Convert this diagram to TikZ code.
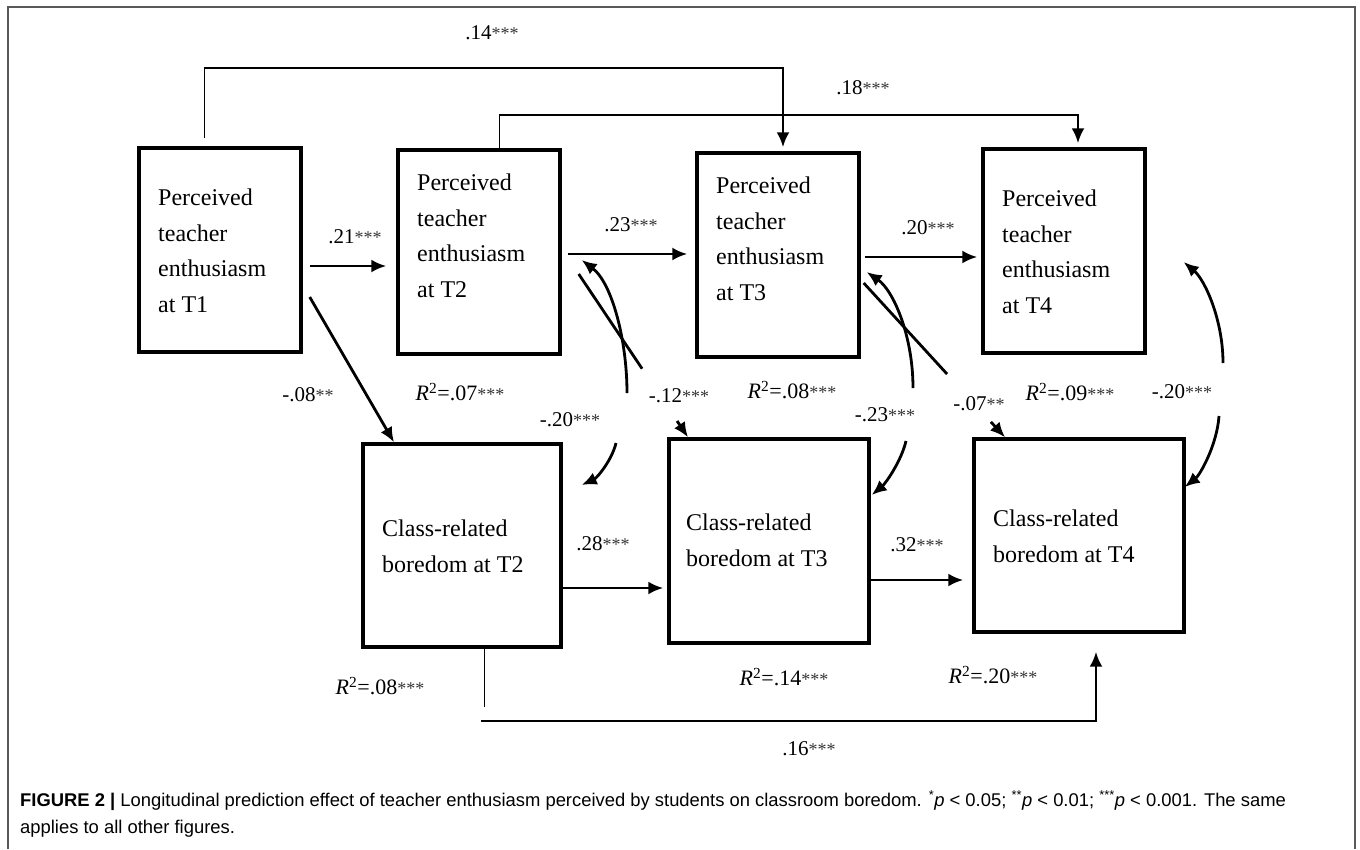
\documentclass[tikz,border=0pt]{standalone}
\usepackage{fontspec}
\setmainfont{Liberation Serif}
\newfontfamily\capfont{Liberation Sans}
\usetikzlibrary{arrows.meta,calc}

\newcommand{\sig}[1]{{\fontsize{18}{18}\selectfont\color{black!80}#1}}
\newcommand{\rsq}[1]{\textit{R}\textsuperscript{2}=#1}

\begin{document}
\begin{tikzpicture}[x=1pt,y=-1pt,>={Latex[length=15pt,width=13pt]}]
	\tikzstyle{box}=[draw,line width=3.4pt,inner sep=0pt]
	\tikzstyle{boxtext}=[anchor=north west,inner sep=0pt,align=left,font=\fontsize{24}{35.5}\selectfont]
	\tikzstyle{coef}=[inner sep=1pt,font=\fontsize{21}{21}\selectfont]
	\tikzstyle{rlab}=[inner sep=1pt,font=\fontsize{22}{22}\selectfont]
	\tikzstyle{link}=[line width=2.8pt]
	\tikzstyle{stem}=[line width=1pt]
	
	\useasboundingbox (0,0) rectangle (1360,849);
	\draw[black!65,line width=2pt] (8,849) -- (8,7) -- (1355,7) -- (1355,849);
	
	\node[box,minimum width=162pt,minimum height=204pt](p1) at (220,250){};
	\node[box,minimum width=162pt,minimum height=204pt](p2) at (479,252){};
	\node[box,minimum width=162pt,minimum height=204pt](p3) at (778,255){};
	\node[box,minimum width=162pt,minimum height=204pt](p4) at (1064,251){};
	
	\node[box,minimum width=198pt,minimum height=203pt](b2) at (462,545.5){};
	\node[box,minimum width=200pt,minimum height=204pt](b3) at (769,541){};
	\node[box,minimum width=210pt,minimum height=193pt](b4) at (1079,535.5){};
	
	\node[boxtext](t1) at (158,189){Perceived\\teacher\\enthusiasm\\at T1};
	\node[boxtext](t2) at (417,174){Perceived\\teacher\\enthusiasm\\at T2};
	\node[boxtext](t3) at (716,177){Perceived\\teacher\\enthusiasm\\at T3};
	\node[boxtext](t4) at (1002,190){Perceived\\teacher\\enthusiasm\\at T4};
	\node[boxtext](s2) at (382,520){Class-related\\boredom at T2};
	\node[boxtext](s3) at (686,514){Class-related\\boredom at T3};
	\node[boxtext](s4) at (993,510){Class-related\\boredom at T4};
	
	\draw[link,->,shorten <=7pt,shorten >=10pt] ([yshift=-16pt]p1.east) -- ([yshift=-14pt]p2.west);
	\draw[link,->,shorten <=6pt,shorten >=8pt] ([yshift=-2pt]p2.east) -- ([yshift=1pt]p3.west);
	\draw[link,->,shorten <=4pt,shorten >=4pt] ([yshift=-2pt]p3.east) -- ([yshift=-6pt]p4.west);
	\draw[link,->,shorten >=4pt] ([yshift=-42.5pt]b2.east) -- ([yshift=-47pt]b3.west);
	\draw[link,->,shorten >=9pt] ([yshift=-39pt]b3.east) -- ([yshift=-44.5pt]b4.west);
	
	\draw[link,->] ([xshift=7pt,yshift=-47pt]p1.east) -- ([xshift=-68pt]b2.north);
	
	\coordinate (a12) at ([xshift=17pt,yshift=-22pt]p2.east);
	\coordinate (e12) at ([xshift=-81pt]b3.north);
	\draw[link] (a12) -- ($(a12)!.58!(e12)$);
	\draw[link,->] ($(a12)!.9!(e12)$) -- (e12);
	
	\coordinate (a07) at ([xshift=3pt,yshift=-28pt]p3.east);
	\coordinate (e07) at ([xshift=-74pt]b4.north);
	\draw[link] (a07) -- ($(a07)!.59!(e07)$);
	\draw[link,->] ($(a07)!.9!(e07)$) -- (e07);
	
	\coordinate (k14) at (204,68);
	\draw[stem] ([xshift=-16pt,yshift=8pt]p1.north) -- (k14);
	\draw[link,->,shorten >=4pt] (k14) -| ([xshift=5pt]p3.north);
	
	\coordinate (k18) at (499,115);
	\draw[stem] ([xshift=20pt]p2.north) -- (k18);
	\draw[link,->,shorten >=4pt] (k18) -| ([xshift=14pt]p4.north);
	
	\coordinate (j16) at (484,707);
	\coordinate (k16) at (481,721);
	\draw[stem] ([xshift=22pt]b2.south) -- (j16);
	\draw[link,->,shorten >=18pt] (k16) -| ([xshift=17pt]b4.south);
	
	\coordinate (u2) at (627,393);
	\coordinate (v2) at (616,443);
	\draw[link,->] (u2) .. controls (627,340) and (612,283) .. ([xshift=20pt,yshift=-8pt]p2.east);
	\draw[link,->] (v2) .. controls (612,460) and (597,478) .. ([xshift=19pt,yshift=60.5pt]b2.east);
	
	\coordinate (u3) at (913,388);
	\coordinate (v3) at (906,441);
	\draw[link,->] (u3) .. controls (913,335) and (893,290) .. ([xshift=6pt,yshift=-17pt]p3.east);
	\draw[link,->] (v3) .. controls (901,462) and (885,484) .. ([xshift=1pt,yshift=46pt]b3.east);
	
	\coordinate (u4) at (1223,363);
	\coordinate (v4) at (1219,416);
	\draw[link,->] (u4) .. controls (1223,320) and (1205,280) .. ([xshift=37pt,yshift=-11pt]p4.east);
	\draw[link,->] (v4) .. controls (1217,445) and (1200,475) .. ([xshift=-1pt,yshift=48.5pt]b4.east);
	
	\node[coef](l14) at (492,33){.14\sig{***}};
	\node[coef](l18) at (863,88){.18\sig{***}};
	\node[coef](l21) at (355,237){.21\sig{***}};
	\node[coef](l23) at (631,225){.23\sig{***}};
	\node[coef](l20) at (928,228){.20\sig{***}};
	\node[coef](l08) at (308,395){-.08\sig{**}};
	\node[coef](l12) at (679,396){-.12\sig{***}};
	\node[coef](c2) at (570,420){-.20\sig{***}};
	\node[coef](c3) at (885,415){-.23\sig{***}};
	\node[coef](l07) at (979,404){-.07\sig{**}};
	\node[coef](c4) at (1182,392){-.20\sig{***}};
	\node[coef](l28) at (603,544){.28\sig{***}};
	\node[coef](l32) at (917,545){.32\sig{***}};
	\node[coef](l16) at (809,749){.16\sig{***}};
	
	\node[rlab](r2) at (460,392){\rsq{.07}\sig{***}};
	\node[rlab](r3) at (792,390){\rsq{.08}\sig{***}};
	\node[rlab](r4) at (1070,392){\rsq{.09}\sig{***}};
	\node[rlab](q2) at (380,686){\rsq{.08}\sig{***}};
	\node[rlab](q3) at (784,677){\rsq{.14}\sig{***}};
	\node[rlab](q4) at (993,675){\rsq{.20}\sig{***}};
	
	\node[anchor=west,inner sep=0pt,align=left,font=\capfont\fontsize{18.4}{27}\selectfont](cap) at (20,814){\textbf{FIGURE 2 |} Longitudinal prediction effect of teacher enthusiasm perceived by students on classroom boredom. \textsuperscript{*}\textit{p} < 0.05; \textsuperscript{**}\textit{p} < 0.01; \textsuperscript{***}\textit{p} < 0.001. The same\\applies to all other figures.};
\end{tikzpicture}
\end{document}
